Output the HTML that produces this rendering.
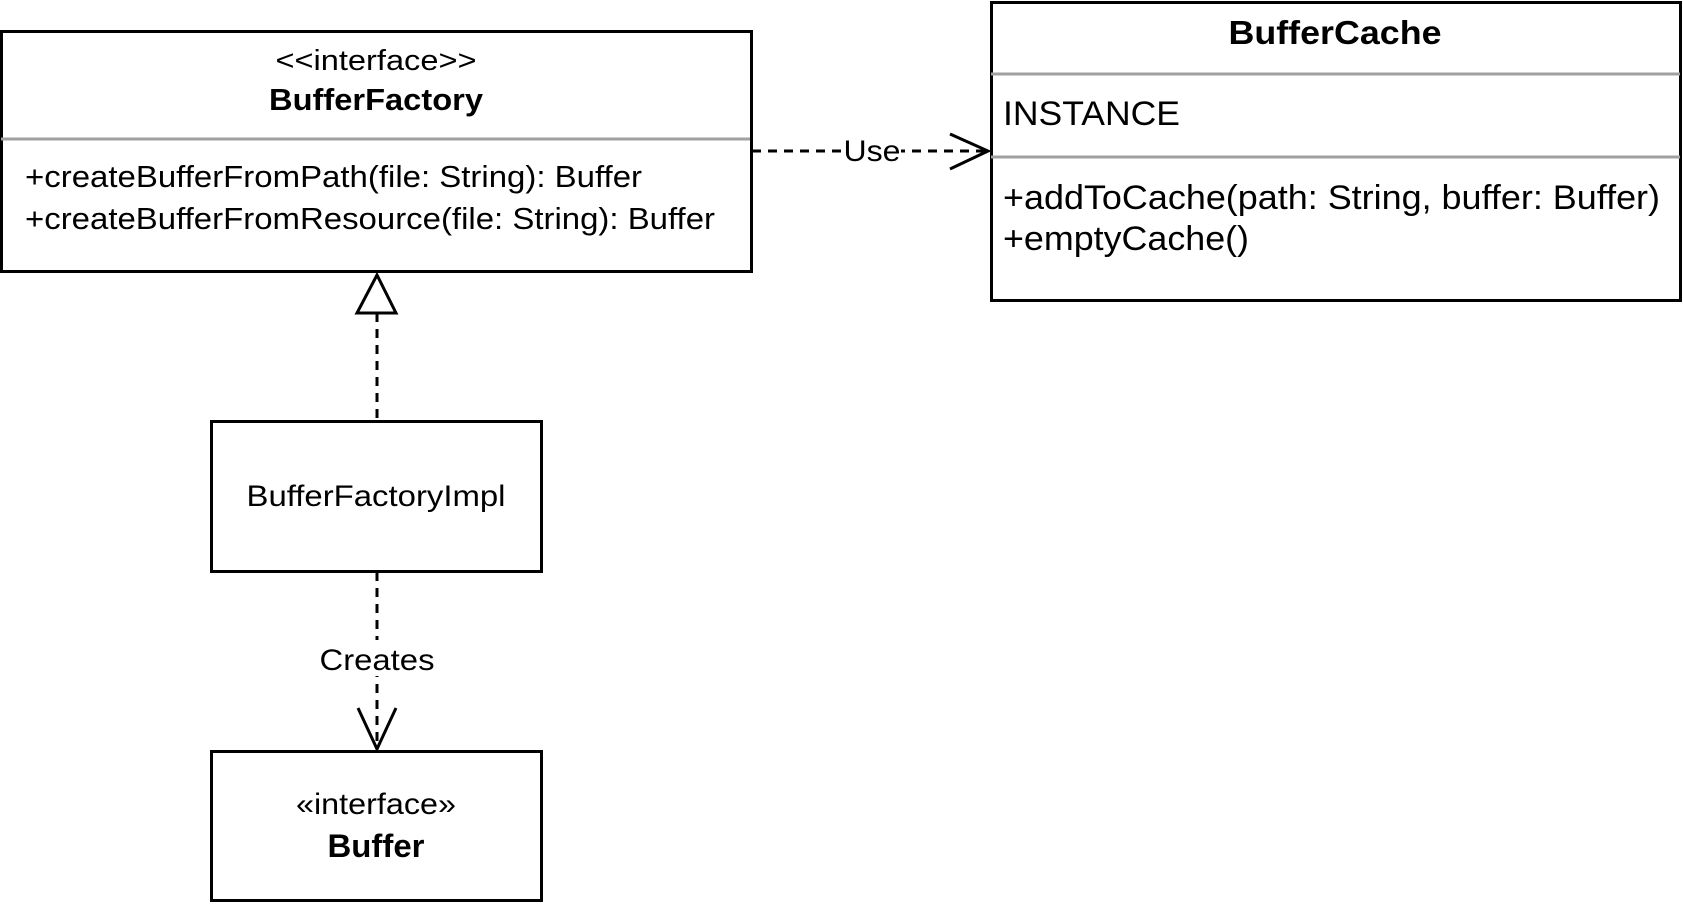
<!DOCTYPE html>
<html><head><style>
body{margin:0;background:#fff;}
svg text{font-family:"Liberation Sans",Arial,sans-serif;fill:#000;}
</style></head><body>
<svg width="1683" height="903" viewBox="0 0 1683 903" xmlns="http://www.w3.org/2000/svg">
<!-- BufferFactory -->
<rect x="1.5" y="31.5" width="750" height="240" fill="#fff" stroke="#000" stroke-width="3"/>
<line x1="1" y1="139" x2="750" y2="139" stroke="#a0a0a0" stroke-width="3"/>
<text x="376" y="70" font-size="29" text-anchor="middle" textLength="201" lengthAdjust="spacingAndGlyphs">&lt;&lt;interface&gt;&gt;</text>
<text x="376" y="110" font-size="31" font-weight="bold" text-anchor="middle" textLength="214" lengthAdjust="spacingAndGlyphs">BufferFactory</text>
<text x="25" y="187" font-size="31" textLength="617" lengthAdjust="spacingAndGlyphs">+createBufferFromPath(file: String): Buffer</text>
<text x="25" y="229" font-size="31" textLength="690" lengthAdjust="spacingAndGlyphs">+createBufferFromResource(file: String): Buffer</text>
<!-- BufferCache -->
<rect x="991.5" y="2.5" width="689" height="298" fill="#fff" stroke="#000" stroke-width="3"/>
<line x1="991" y1="74" x2="1680" y2="74" stroke="#a0a0a0" stroke-width="3"/>
<line x1="991" y1="157" x2="1680" y2="157" stroke="#a0a0a0" stroke-width="3"/>
<text x="1335" y="44" font-size="33" font-weight="bold" text-anchor="middle" textLength="213" lengthAdjust="spacingAndGlyphs">BufferCache</text>
<text x="1003" y="125" font-size="34" textLength="177" lengthAdjust="spacingAndGlyphs">INSTANCE</text>
<text x="1003" y="209" font-size="34" textLength="657" lengthAdjust="spacingAndGlyphs">+addToCache(path: String, buffer: Buffer)</text>
<text x="1003" y="250" font-size="34" textLength="246" lengthAdjust="spacingAndGlyphs">+emptyCache()</text>
<!-- Use -->
<line x1="752" y1="151" x2="986" y2="151" stroke="#000" stroke-width="3" stroke-dasharray="9,7"/>
<rect x="843" y="134" width="58" height="34" fill="#fff"/>
<text x="872" y="161" font-size="30" text-anchor="middle" textLength="57" lengthAdjust="spacingAndGlyphs">Use</text>
<polyline points="950,134 988,151 950,169" fill="none" stroke="#000" stroke-width="3"/>
<!-- realization -->
<line x1="377" y1="313" x2="377" y2="421" stroke="#000" stroke-width="3" stroke-dasharray="9,7"/>
<polygon points="377,275 357,313 396,313" fill="#fff" stroke="#000" stroke-width="3"/>
<!-- BufferFactoryImpl -->
<rect x="211.5" y="421.5" width="330" height="150" fill="#fff" stroke="#000" stroke-width="3"/>
<text x="376" y="506" font-size="30" text-anchor="middle" textLength="259" lengthAdjust="spacingAndGlyphs">BufferFactoryImpl</text>
<!-- Creates -->
<line x1="377" y1="572" x2="377" y2="748" stroke="#000" stroke-width="3" stroke-dasharray="9,7"/>
<rect x="318" y="640" width="118" height="36" fill="#fff"/>
<text x="377" y="670" font-size="30" text-anchor="middle" textLength="115" lengthAdjust="spacingAndGlyphs">Creates</text>
<polyline points="358,708 377,749 396,708" fill="none" stroke="#000" stroke-width="3"/>
<!-- Buffer -->
<rect x="211.5" y="751.5" width="330" height="149" fill="#fff" stroke="#000" stroke-width="3"/>
<text x="376" y="814" font-size="30" text-anchor="middle" textLength="160" lengthAdjust="spacingAndGlyphs">«interface»</text>
<text x="376" y="857" font-size="32" font-weight="bold" text-anchor="middle" textLength="97" lengthAdjust="spacingAndGlyphs">Buffer</text>
</svg>
</body></html>
